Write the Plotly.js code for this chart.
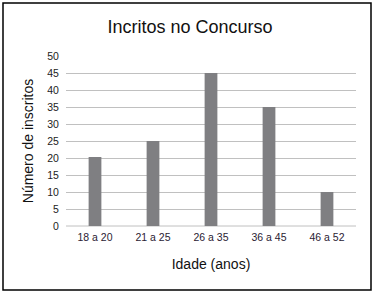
<!DOCTYPE html>
<html><head><meta charset="utf-8">
<script src="https://cdn.plot.ly/plotly-3.0.1.min.js"></script>
<style>html,body{margin:0;padding:0;background:#fff;}#c{width:375px;height:294px;}</style>
</head><body><div id="c"></div>
<script>
var categories = ["18 a 20", "21 a 25", "26 a 35", "36 a 45", "46 a 52"];
var inscritos = [20.3, 25, 45, 35, 10];
var yTicks = [0, 5, 10, 15, 20, 25, 30, 35, 40, 45, 50];

var L = 66, R = 19, T = 56, B = 68, W = 375, H = 294;
var pw = W - L - R, ph = H - T - B;
function px(x){ return (x - L) / pw; }
function py(y){ return (H - B - y) / ph; }

var data = [{
  type: 'bar', x: categories, y: inscritos,
  marker: {color: '#7f7f82'}, width: 0.22, hoverinfo: 'none'
}];
var layout = {
  width: W, height: H,
  margin: {l: L, r: R, t: T, b: B, pad: 0},
  paper_bgcolor: '#fff', plot_bgcolor: '#fff',
  font: {family: 'Liberation Sans, Arial, sans-serif', color: '#222'},
  title: {text: 'Incritos no Concurso', font: {size: 18, color: '#111'},
          xref: 'container', x: 190/375, xanchor: 'center', yref: 'container', y: 1 - 27/294, yanchor: 'middle'},
  xaxis: {
    type: 'category', showgrid: false, zeroline: false, showline: false,
    ticks: '', tickfont: {size: 10.5, color: '#2a2233'}, ticklabelstandoff: 3,
    title: {text: 'Idade (anos)', font: {size: 14, color: '#111'}, standoff: 17}
  },
  yaxis: {
    range: [0, 50], tickvals: yTicks, showgrid: true, gridcolor: '#c0c0c0', gridwidth: 1,
    zeroline: false, showline: false, ticks: 'outside', ticklen: 4, tickcolor: 'rgba(0,0,0,0)',
    tickfont: {size: 10.5, color: '#222'},
    title: {text: 'Número de inscritos', font: {size: 14, color: '#111'}, standoff: 10}
  },
  shapes: [
    {type: 'line', xref: 'paper', yref: 'paper', x0: 0, x1: 1, y0: 0, y1: 0, line: {color: '#c0c0c0', width: 1}, layer: 'below'},
    {type: 'rect', xref: 'paper', yref: 'paper', x0: px(3), x1: px(371), y0: py(290), y1: py(3), line: {color: '#000', width: 1.5}}
  ],
  showlegend: false
};
Plotly.newPlot('c', data, layout, {staticPlot: true, displayModeBar: false});
</script></body></html>
